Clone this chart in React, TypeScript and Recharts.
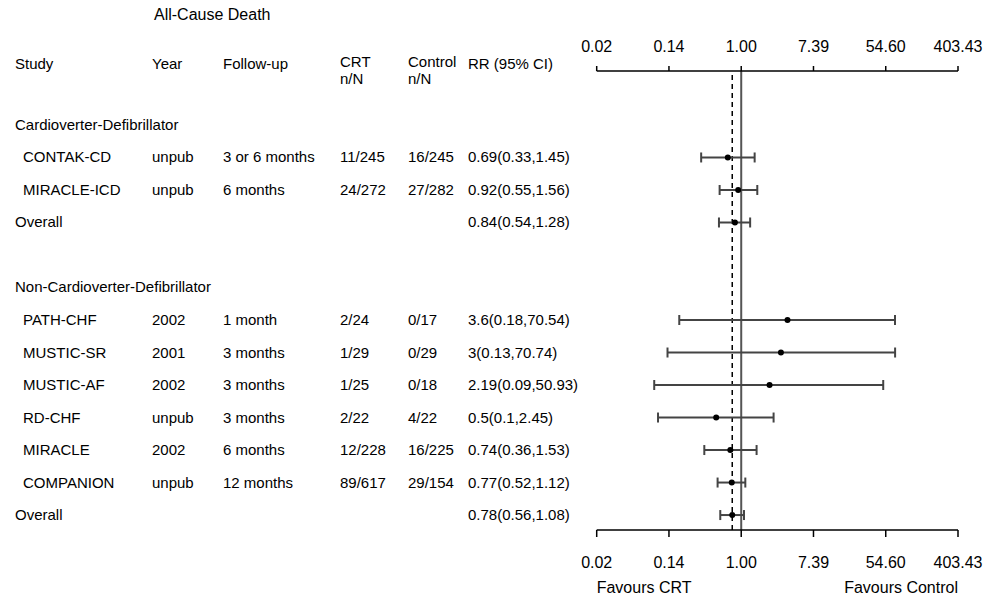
import React from "react";
import {
  ScatterChart,
  Scatter,
  XAxis,
  YAxis,
  ErrorBar,
  ReferenceLine,
  Customized,
} from "recharts";

// ---------- data ----------
const groupNames = ["Cardioverter-Defibrillator", "Non-Cardioverter-Defibrillator"];
const studyNames = ["CONTAK-CD", "MIRACLE-ICD", "PATH-CHF", "MUSTIC-SR", "MUSTIC-AF", "RD-CHF", "MIRACLE", "COMPANION"];
const studyGroups = [0, 0, 1, 1, 1, 1, 1, 1];
const studyYears = ["unpub", "unpub", "2002", "2001", "2002", "unpub", "2002", "unpub"];
const followUps = ["3 or 6 months", "6 months", "1 month", "3 months", "3 months", "3 months", "6 months", "12 months"];
const crtEvents = ["11/245", "24/272", "2/24", "1/29", "1/25", "2/22", "12/228", "89/617"];
const controlEvents = ["16/245", "27/282", "0/17", "0/29", "0/18", "4/22", "16/225", "29/154"];
const studyRR = [0.69, 0.92, 3.6, 3, 2.19, 0.5, 0.74, 0.77];
const studyLow = [0.33, 0.55, 0.18, 0.13, 0.09, 0.1, 0.36, 0.52];
const studyHigh = [1.45, 1.56, 70.54, 70.74, 50.93, 2.45, 1.53, 1.12];
const overallRR = [0.84, 0.78];
const overallLow = [0.54, 0.56];
const overallHigh = [1.28, 1.08];
const pooledRR = 0.78;
const logTicks = [-4, -2, 0, 2, 4, 6];
const columnHeads = ["Study", "Year", "Follow-up", "CRT", "Control", "RR (95% CI)"];

// ---------- layout ----------
const W = 992;
const H = 600;
const FONT = "'Liberation Sans', Arial, sans-serif";
const MARGIN = { top: 41, right: 34, bottom: 40, left: 6.7 };
const Y_AXIS_W = 590;
const PLOT_LEFT = MARGIN.left + Y_AXIS_W;
const PLOT_RIGHT = W - MARGIN.right;
const COL = { group: 15, name: 23, year: 152, fu: 223, crt: 340, ctrl: 408, rr: 468 };

type Row = {
  k: number;
  kind: "group" | "study" | "overall";
  label: string;
  year?: string;
  fu?: string;
  crt?: string;
  ctrl?: string;
  rr?: number;
  lo?: number;
  hi?: number;
};

const rows: Row[] = [];
let kk = 0;
groupNames.forEach((g, gi) => {
  rows.push({ k: kk++, kind: "group", label: g });
  studyNames.forEach((s, i) => {
    if (studyGroups[i] === gi) {
      rows.push({
        k: kk++,
        kind: "study",
        label: s,
        year: studyYears[i],
        fu: followUps[i],
        crt: crtEvents[i],
        ctrl: controlEvents[i],
        rr: studyRR[i],
        lo: studyLow[i],
        hi: studyHigh[i],
      });
    }
  });
  rows.push({ k: kk++, kind: "overall", label: "Overall", rr: overallRR[gi], lo: overallLow[gi], hi: overallHigh[gi] });
  kk++; // blank row
});

const points = rows
  .filter((r) => r.rr != null)
  .map((r) => {
    const x = Math.log(r.rr as number);
    return {
      k: r.k,
      x,
      err: [x - Math.log(r.lo as number), Math.log(r.hi as number) - x],
    };
  });

const rowTicks = rows.map((r) => r.k);

const txt = { fontSize: 15, fontFamily: FONT, fill: "#000" };

const RowTick = (props: any) => {
  const { y, payload } = props;
  const r = rows.find((row) => row.k === payload.value);
  if (!r) return <g />;
  const dy = 5;
  if (r.kind === "group") {
    return (
      <text x={COL.group} y={y} dy={dy} {...txt}>
        {r.label}
      </text>
    );
  }
  const rrText = `${r.rr}(${r.lo},${r.hi})`;
  if (r.kind === "overall") {
    return (
      <g>
        <text x={COL.group} y={y} dy={dy} {...txt}>
          {r.label}
        </text>
        <text x={COL.rr} y={y} dy={dy} {...txt}>
          {rrText}
        </text>
      </g>
    );
  }
  return (
    <g>
      <text x={COL.name} y={y} dy={dy} {...txt}>{r.label}</text>
      <text x={COL.year} y={y} dy={dy} {...txt}>{r.year}</text>
      <text x={COL.fu} y={y} dy={dy} {...txt}>{r.fu}</text>
      <text x={COL.crt} y={y} dy={dy} {...txt}>{r.crt}</text>
      <text x={COL.ctrl} y={y} dy={dy} {...txt}>{r.ctrl}</text>
      <text x={COL.rr} y={y} dy={dy} {...txt}>{rrText}</text>
    </g>
  );
};

const HEAD_Y = 67;
const SUB_Y = 84;

const Decorations = () => (
  <g>
    <text x={154} y={20} fontSize={16} fontFamily={FONT} fill="#000">
      All-Cause Death
    </text>
    <text x={COL.group} y={HEAD_Y + 2} {...txt}>{columnHeads[0]}</text>
    <text x={COL.year} y={HEAD_Y + 2} {...txt}>{columnHeads[1]}</text>
    <text x={COL.fu} y={HEAD_Y + 2} {...txt}>{columnHeads[2]}</text>
    <text x={COL.crt} y={HEAD_Y} {...txt}>{columnHeads[3]}</text>
    <text x={COL.crt} y={SUB_Y} {...txt}>n/N</text>
    <text x={COL.ctrl} y={HEAD_Y} {...txt}>{columnHeads[4]}</text>
    <text x={COL.ctrl} y={SUB_Y} {...txt}>n/N</text>
    <text x={COL.rr} y={HEAD_Y + 2} {...txt}>{columnHeads[5]}</text>
    <text x={PLOT_LEFT} y={593} fontSize={16} fontFamily={FONT} fill="#000">
      Favours CRT
    </text>
    <text x={PLOT_RIGHT} y={593} fontSize={16} fontFamily={FONT} fill="#000" textAnchor="end">
      Favours Control
    </text>
  </g>
);

const Dot = (props: any) => {
  const { cx, cy } = props;
  if (cx == null || cy == null) return <g />;
  return <circle cx={cx} cy={cy} r={3} fill="#000" />;
};

const fmtTick = (v: number) => Math.exp(v).toFixed(2);
const tickStyle = { fill: "#000", fontSize: 16, fontFamily: FONT };

export default function App() {
  return (
    <div style={{ position: "absolute", left: 0, top: 0, width: W, height: H, background: "#fff" }}>
      <ScatterChart width={W} height={H} margin={MARGIN}>
        <XAxis
          xAxisId="top"
          orientation="top"
          type="number"
          dataKey="x"
          domain={[-4, 6]}
          ticks={logTicks}
          interval={0}
          allowDataOverflow
          tickFormatter={fmtTick}
          height={30}
          tickSize={5}
          tickMargin={14}
          tick={tickStyle}
          axisLine={{ stroke: "#000", strokeWidth: 1.5 }}
          tickLine={{ stroke: "#000", strokeWidth: 1.5 }}
        />
        <XAxis
          xAxisId="bottom"
          orientation="bottom"
          type="number"
          dataKey="x"
          domain={[-4, 6]}
          ticks={logTicks}
          interval={0}
          allowDataOverflow
          tickFormatter={fmtTick}
          height={30}
          tickSize={7}
          tickMargin={20}
          tick={tickStyle}
          axisLine={{ stroke: "#000", strokeWidth: 1.5 }}
          tickLine={{ stroke: "#000", strokeWidth: 1.5 }}
        />
        <YAxis
          type="number"
          dataKey="k"
          domain={[-1.66, 12.46]}
          reversed
          allowDataOverflow
          ticks={rowTicks}
          interval={0}
          width={Y_AXIS_W}
          axisLine={false}
          tickLine={false}
          tick={<RowTick />}
        />
        <ReferenceLine xAxisId="bottom" x={0} stroke="#555" strokeWidth={2} ifOverflow="extendDomain" />
        <ReferenceLine
          xAxisId="bottom"
          x={Math.log(pooledRR)}
          stroke="#000"
          strokeWidth={1.5}
          strokeDasharray="5 4"
        />
        <Scatter xAxisId="bottom" data={points} dataKey="x" shape={<Dot />} isAnimationActive={false}>
          <ErrorBar dataKey="err" direction="x" width={5} stroke="#444" strokeWidth={2} />
        </Scatter>
        <Customized component={Decorations} />
      </ScatterChart>
    </div>
  );
}
